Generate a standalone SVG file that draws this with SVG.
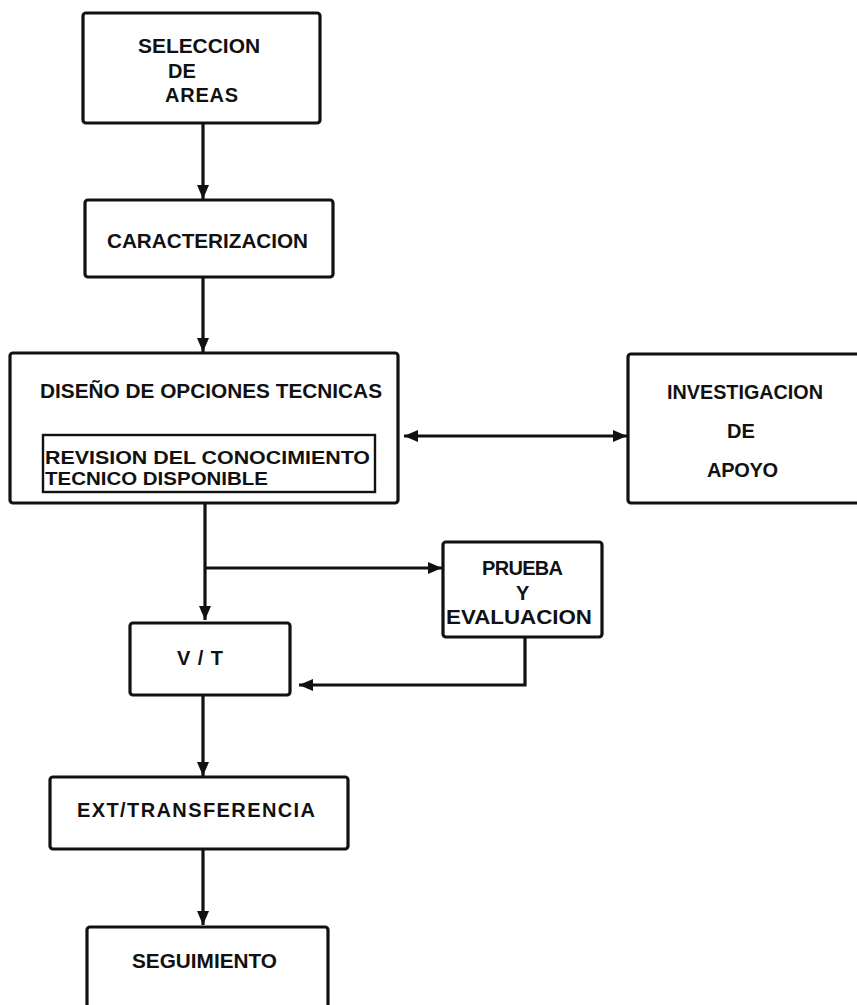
<svg xmlns="http://www.w3.org/2000/svg" width="857" height="1005" viewBox="0 0 857 1005">
<style>
.box{fill:none;stroke:#111;stroke-width:3.2;stroke-linejoin:round}
.inner{fill:none;stroke:#111;stroke-width:2.4}
.lbl{font-family:"Liberation Sans",Arial,sans-serif;font-weight:bold;font-size:20px;fill:#111}
.sm{font-size:17.5px}
.mid{text-anchor:middle}
.con{fill:none;stroke:#111;stroke-width:3.2}
</style>
<defs>
<marker id="arr" markerUnits="userSpaceOnUse" markerWidth="16" markerHeight="14" refX="14" refY="7" orient="auto-start-reverse">
<path d="M0,1 L14,7 L0,13 Z" fill="#111"/>
</marker>
</defs>
<rect width="857" height="1005" fill="#fff"/>
<g id="connectors">
<line class="con" x1="203" y1="123" x2="203" y2="199" marker-end="url(#arr)"/>
<line class="con" x1="203" y1="277" x2="203" y2="352" marker-end="url(#arr)"/>
<line class="con" x1="404" y1="436" x2="627" y2="436" marker-start="url(#arr)" marker-end="url(#arr)"/>
<line class="con" x1="205" y1="503" x2="205" y2="620" marker-end="url(#arr)"/>
<line class="con" x1="205" y1="568" x2="442" y2="568" marker-end="url(#arr)"/>
<polyline class="con" points="525,637 525,685 299,685" marker-end="url(#arr)"/>
<line class="con" x1="203" y1="695" x2="203" y2="776" marker-end="url(#arr)"/>
<line class="con" x1="203" y1="849" x2="203" y2="925" marker-end="url(#arr)"/>
</g>
<g id="seleccion">
<rect class="box" x="83" y="13" width="237" height="110" rx="3"/>
<text class="lbl" x="138" y="53" textLength="122" lengthAdjust="spacingAndGlyphs">SELECCION</text>
<text class="lbl mid" x="182" y="78">DE</text>
<text class="lbl" x="165" y="102" textLength="73" lengthAdjust="spacing">AREAS</text>
</g>
<g id="caracterizacion">
<rect class="box" x="85" y="200" width="248" height="77" rx="3"/>
<text class="lbl" x="107" y="248" textLength="201" lengthAdjust="spacingAndGlyphs">CARACTERIZACION</text>
</g>
<g id="diseno">
<rect class="box" x="10" y="353" width="388" height="150" rx="3"/>
<text class="lbl" x="40" y="398" textLength="342" lengthAdjust="spacingAndGlyphs">DISEÑO DE OPCIONES TECNICAS</text>
<rect class="inner" x="43" y="435" width="332" height="57"/>
<text class="lbl sm" x="45" y="464" textLength="325" lengthAdjust="spacingAndGlyphs">REVISION DEL CONOCIMIENTO</text>
<text class="lbl sm" x="45" y="485" textLength="223" lengthAdjust="spacingAndGlyphs">TECNICO DISPONIBLE</text>
</g>
<g id="investigacion">
<rect class="box" x="628" y="354" width="240" height="149" rx="3"/>
<text class="lbl" x="667" y="399" textLength="156" lengthAdjust="spacingAndGlyphs">INVESTIGACION</text>
<text class="lbl mid" x="741" y="438">DE</text>
<text class="lbl" x="707" y="477" textLength="71" lengthAdjust="spacing">APOYO</text>
</g>
<g id="prueba">
<rect class="box" x="443" y="542" width="159" height="95" rx="3"/>
<text class="lbl" x="482" y="575" textLength="81" lengthAdjust="spacing">PRUEBA</text>
<text class="lbl" x="516" y="600">Y</text>
<text class="lbl" x="446" y="624" textLength="146" lengthAdjust="spacingAndGlyphs">EVALUACION</text>
</g>
<g id="vt">
<rect class="box" x="130" y="623" width="160" height="72" rx="3"/>
<text class="lbl" x="177" y="665" textLength="46" lengthAdjust="spacing">V/T</text>
</g>
<g id="ext">
<rect class="box" x="50" y="777" width="298" height="72" rx="3"/>
<text class="lbl" x="77" y="817" textLength="238" lengthAdjust="spacing">EXT/TRANSFERENCIA</text>
</g>
<g id="seguimiento">
<rect class="box" x="87" y="927" width="241" height="100" rx="3"/>
<text class="lbl" x="132" y="968" textLength="145" lengthAdjust="spacingAndGlyphs">SEGUIMIENTO</text>
</g>
</svg>
